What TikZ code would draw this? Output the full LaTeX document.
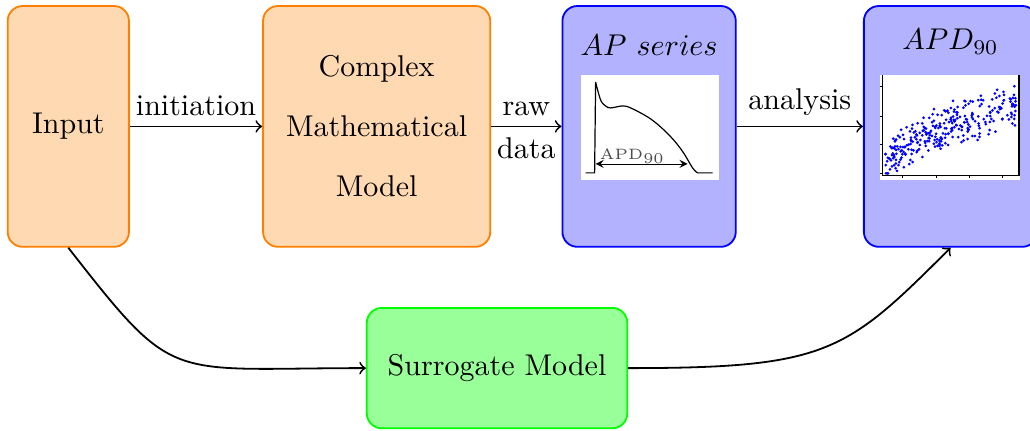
\documentclass[tikz,border=0pt]{standalone}
\usetikzlibrary{calc}
\tikzset{
    flow/.style         = {->, semithick},
    box/.style          = {draw, semithick, rounded corners=5pt, align=center,
                           minimum height=2.82cm},
    model box/.style    = {box, draw=orange, fill=orange!30},
    result box/.style   = {box, draw=blue, fill=blue!30, minimum width=2.03cm},
    surrogate box/.style = {box, draw=green, fill=green!40,
                           minimum width=3.05cm, minimum height=1.41cm},
    panel/.style        = {fill=white},
    sample/.style       = {fill=blue}
}
% one pixel of the small embedded plots
\def\px{0.01171cm}
\def\toprow{-1.48}

\begin{document}
\begin{tikzpicture}

\useasboundingbox (0,0) rectangle (12.06,-5.04);

% Main pipeline through the full model.
\node[model box, minimum width=1.42cm] (input) at (0.80,\toprow) {Input};
\node[model box, minimum width=2.66cm] (complex) at (4.41,\toprow)
    {Complex\\[8pt] Mathematical\\[8pt] Model};
\node[result box] (ap) at (7.60,\toprow) {};
\node[result box] (apd) at (11.13,\toprow) {};
\node at ($(ap.center)+(0,0.955)$) (aptitle) {$AP~series$};
\node at ($(apd.center)+(0,0.99)$) (apdtitle) {$APD_{90}$};

\draw[flow] (input) -- node[above] {initiation} (complex);
\draw[flow] (complex) -- node[above] {raw} node[below] {data} (ap);
\draw[flow] (ap) -- node[above] {analysis} (apd);

% Action potential trace with its duration marked.
\begin{scope}[shift={(ap.center)}, x=\px, y=-\px]
    \fill[panel] (-68.5,-51.5) rectangle (69.5,53.5);
    \draw[thin] (-63.5,46.5) -- (-54.5,46.5) -- (-53.5,-44.5)
        plot[smooth, tension=0.6] coordinates {(-53.5,-44.5) (-48.5,-26.5)
        (-43.5,-20.5) (-38.5,-18.5) (-26.5,-20.5) (-18.5,-18.5) (-1.5,-9.5)
        (11.5,0.5) (24.5,13.5) (34.5,26.5) (43.5,41.5) (48.5,46.5)}
        -- (63.5,46.5);
    \draw[<->, >=stealth, very thin] (-53.5,37.5) -- (38.5,37.5);
    \node[font=\tiny, text=black!70, inner sep=1pt] (apdmark)
        at (-16.5,29.5) {APD$_{90}$};
\end{scope}

% Scatter of the computed durations.
\begin{scope}[shift={(apd.center)}, x=\px, y=-\px]
    \fill[panel] (-70.5,-51.5) rectangle (69.5,53.5);
    \draw[thin] (-68.5,-51.5) -- (-68.5,49.5) -- (68.5,49.5) -- (68.5,-51.5);
    \foreach \t in {-40.5,-10.5,17.5,46.5}
        \draw[very thin] (-68.5,\t) -- (-70.5,\t);
    \foreach \t in {-48.5,-14.5,18.5,51.5}
        \draw[very thin] (\t,49.5) -- (\t,51.5);
    \pgfmathsetseed{42}
    \foreach \i in {1,...,300}{
        \pgfmathsetmacro\sx{-66+132*rnd}
        \pgfmathsetmacro\sy{min(47,max(-48,
            44-64*((\sx+66.5)/132)^0.55+13*(rand+rand)))}
        \fill[sample] (\sx,\sy) circle[radius=0.5pt];
    }
\end{scope}

% Shortcut through the surrogate.
\node[surrogate box] (surrogate) at (5.82,-4.31) {Surrogate Model};
\draw[flow] (input.south) to[out=-52, in=180,
    out looseness=1.4, in looseness=1.6] (surrogate.west);
\draw[flow] (surrogate.east) to[out=0, in=-135,
    out looseness=1.48, in looseness=1.1] (apd.south);

\end{tikzpicture}
\end{document}
